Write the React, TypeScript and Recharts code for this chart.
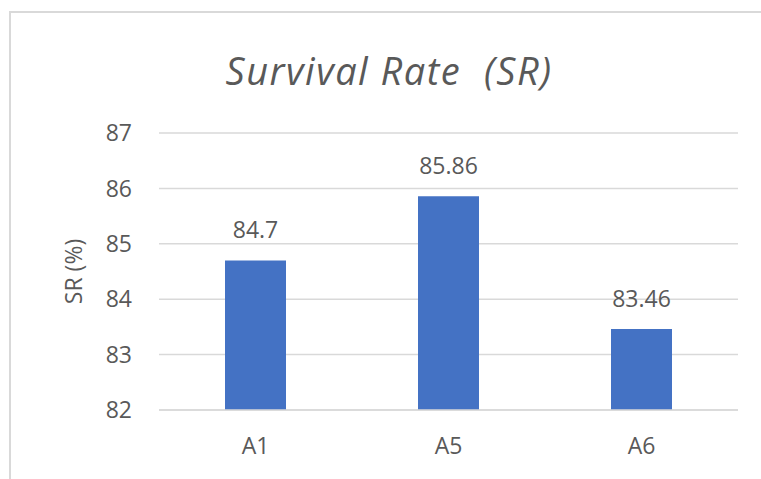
import React from 'react';
import { BarChart, Bar, XAxis, YAxis, CartesianGrid, LabelList } from 'recharts';

const categories = ['A1', 'A5', 'A6'];
const srValues = [84.7, 85.86, 83.46];
const yTicks = [82, 83, 84, 85, 86, 87];

const data = categories.map((c, i) => ({ name: c, sr: srValues[i] }));

const FONT = '"Open Sans", "Liberation Sans", sans-serif';
const TEXT = '#595959';
const FS = 23;

export default function App() {
  return (
    <div style={{ position: 'absolute', left: 0, top: 0, width: 761, height: 479, overflow: 'hidden', background: '#fff' }}>
      <div style={{ position: 'absolute', left: 9, top: 11, width: 900, height: 700, borderTop: '2px solid #d9d9d9', borderLeft: '2px solid #d9d9d9', boxSizing: 'border-box' }} />
      <div style={{ position: 'absolute', left: 0, width: 778, top: 46, height: 48, lineHeight: '48px', textAlign: 'center', fontFamily: FONT, fontStyle: 'italic', fontSize: 38, letterSpacing: 1.5, color: TEXT, whiteSpace: 'pre' }}>
        {'Survival Rate  (SR)'}
      </div>
      <div style={{ position: 'absolute', left: 0, top: 0 }}>
        <BarChart width={761} height={479} data={data} margin={{ top: 133, right: 23, bottom: 39, left: 0 }}>
          <CartesianGrid vertical={false} stroke="#d9d9d9" strokeWidth={1.5} />
          <XAxis dataKey="name" height={30} tickLine={false} axisLine={{ stroke: '#d9d9d9', strokeWidth: 1.5 }} tickMargin={22} tick={{ fill: TEXT, fontSize: FS, fontFamily: FONT }} />
          <YAxis
            width={159}
            domain={[82, 87]}
            ticks={yTicks}
            interval={0}
            tickLine={false}
            axisLine={false}
            tickMargin={21}
            tick={{ fill: TEXT, fontSize: FS, fontFamily: FONT }}
            label={{ value: 'SR (%)', angle: -90, position: 'center', dx: -6, fill: TEXT, fontSize: FS, fontFamily: FONT }}
          />
          <Bar dataKey="sr" fill="#4472C4" barSize={61} isAnimationActive={false}>
            <LabelList dataKey="sr" position="top" offset={22} fill={TEXT} fontSize={FS} fontFamily={FONT} />
          </Bar>
        </BarChart>
      </div>
    </div>
  );
}
